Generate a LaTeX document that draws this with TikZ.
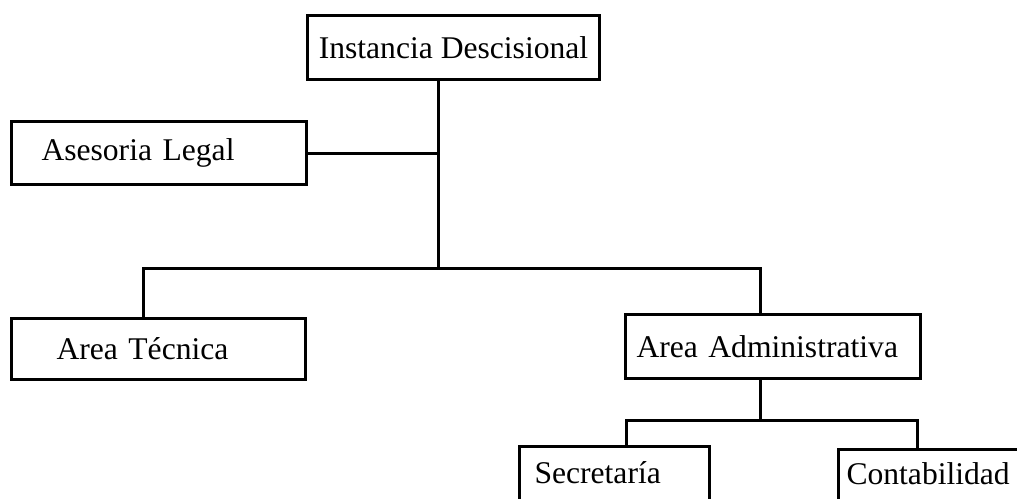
\documentclass[tikz,border=0pt]{standalone}
\usepackage{fontspec}
\setmainfont{Liberation Serif}

\begin{document}
\begin{tikzpicture}[x=0.5pt,y=-0.5pt,line width=1.5pt,
  unit/.style={draw,rectangle,anchor=north west,inner ysep=0pt,
    font=\fontsize{15.8}{19}\selectfont}]
\useasboundingbox (0,0) rectangle (1017,498);
\clip (0,0) rectangle (1017,498);
% ---------- top of the chart ----------
\node[unit,minimum width=146pt,minimum height=32pt] (inst) at (306,14)
  {Instancia Descisional};
\node[unit,minimum height=31.5pt,text width=117.5pt,inner xsep=15pt,align=left]
  (ases) at (10,120) {Asesoria Legal};
% ---------- second level ----------
\node[unit,minimum height=30.5pt,text width=102pt,inner xsep=22.5pt,align=left]
  (tec) at (10,317) {Area Técnica};
\node[unit,minimum height=32pt,text width=136.5pt,inner xsep=5.5pt,align=left]
  (adm) at (624,313) {Area Administrativa};
% ---------- third level (cut by the page edge) ----------
\node[unit,minimum height=32pt,text height=11pt,text depth=6pt,
  text width=80pt,inner xsep=7.5pt,align=left]
  (sec) at (518,445) {Secretaría};
\node[unit,minimum height=30pt,text height=11pt,text depth=6pt,
  text width=92pt,inner xsep=4pt,align=left]
  (cont) at (837,448) {Contabilidad};
% branch points
\coordinate (trunk) at (438,268);
\coordinate (lb) at (143,268);
\coordinate (rb) at (760,268);
\coordinate (ab) at (760,420);
\coordinate (sb) at (626,420);
\coordinate (cb) at (917,420);
% ---------- connectors ----------
\draw (inst.south -| trunk) -- (trunk);
\draw (ases.east) -- (ases.east -| trunk);
\draw (tec.north -| lb) -- (lb) -- (rb) -- (adm.north -| rb);
\draw (adm.south -| ab) -- (ab);
\draw (sec.north -| sb) -- (sb) -- (cb) -- (cont.north -| cb);
\end{tikzpicture}
\end{document}
